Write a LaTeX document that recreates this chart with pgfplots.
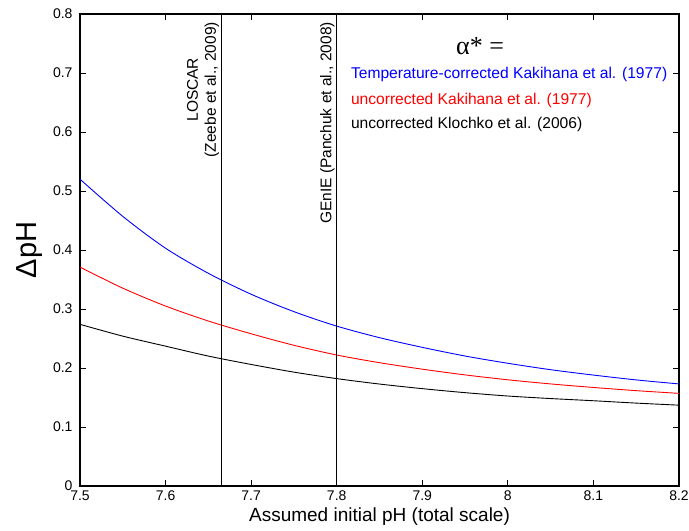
\documentclass[border=0pt]{standalone}
\usepackage{fontspec}
\setmainfont{Liberation Sans}
\newfontfamily\serifalpha{Liberation Serif}
\usepackage{pgfplots}
\pgfplotsset{compat=1.18}
\definecolor{myblue}{RGB}{0,0,255}
\definecolor{myred}{RGB}{255,0,0}
\begin{document}
\begin{tikzpicture}
\begin{axis}[
  scale only axis,
  width=599pt, height=472pt,
  xmin=7.5, xmax=8.2, ymin=0, ymax=0.8,
  xtick={7.5,7.6,7.7,7.8,7.9,8.0,8.1,8.2},
  xticklabels={7.5,7.6,7.7,7.8,7.9,8,8.1,8.2},
  ytick={0,0.1,0.2,0.3,0.4,0.5,0.6,0.7,0.8},
  yticklabels={0,0.1,0.2,0.3,0.4,0.5,0.6,0.7,0.8},
  tick align=inside,
  major tick length=6pt,
  axis line style={line width=1.3pt},
  tick style={line width=0.9pt, black},
  ticklabel style={font=\fontsize{14}{16}\selectfont},
  yticklabel style={xshift=-4pt},
  xticklabel style={yshift=-1.5pt},
  /pgf/number format/assume math mode=true,
  xlabel={Assumed initial pH (total scale)},
  xlabel style={font=\fontsize{19}{21}\selectfont, at={(axis description cs:0.5,0)}, anchor=center, yshift=-31pt},
  ylabel={ΔpH},
  ylabel style={font=\fontsize{29}{31}\selectfont, at={(axis description cs:-0.0835,0.5)}, anchor=center},
  clip=true,
]
\addplot[myblue, line width=0.9pt, smooth] coordinates {
(7.50,0.520) (7.55,0.457) (7.60,0.403) (7.65,0.3605) (7.70,0.325) (7.75,0.2955)
(7.80,0.271) (7.85,0.2514) (7.90,0.235) (7.95,0.2203) (8.00,0.208) (8.05,0.1971)
(8.10,0.188) (8.15,0.1798) (8.20,0.173)};
\addplot[myred, line width=0.9pt, smooth] coordinates {
(7.50,0.371) (7.55,0.3353) (7.60,0.305) (7.65,0.2796) (7.70,0.258) (7.75,0.2385)
(7.80,0.222) (7.85,0.209) (7.90,0.198) (7.95,0.1883) (8.00,0.180) (8.05,0.173)
(8.10,0.167) (8.15,0.1616) (8.20,0.157)};
\addplot[black, line width=0.9pt, smooth] coordinates {
(7.50,0.274) (7.55,0.254) (7.60,0.237) (7.65,0.2202) (7.70,0.206) (7.75,0.193)
(7.80,0.182) (7.85,0.1728) (7.90,0.165) (7.95,0.1582) (8.00,0.1525) (8.05,0.1482)
(8.10,0.1445) (8.15,0.1405) (8.20,0.137)};
\addplot[black, line width=0.9pt] coordinates {(7.665,0) (7.665,0.8)};
\addplot[black, line width=0.9pt] coordinates {(7.8,0) (7.8,0.8)};
\node[rotate=90, anchor=south east, align=center, font=\fontsize{15.5}{18}\selectfont, inner sep=2pt]
  at (axis cs:7.665,0.79) {LOSCAR\\(Zeebe et al., 2009)};
\node[rotate=90, anchor=south east, font=\fontsize{15.5}{18}\selectfont, inner sep=2pt]
  at (axis cs:7.8,0.79) {GEnIE (Panchuk et al., 2008)};
\node[font=\fontsize{26}{28}\selectfont\serifalpha] at (axis cs:7.9675,0.745) {α* =};
\node[anchor=west, font=\fontsize{15.6}{18}\selectfont, text=myblue, inner sep=0pt] at (axis cs:7.8165,0.697) {Temperature-corrected Kakihana et al. (1977)};
\node[anchor=west, font=\fontsize{15.6}{18}\selectfont, text=myred, inner sep=0pt] at (axis cs:7.8165,0.654) {uncorrected Kakihana et al. (1977)};
\node[anchor=west, font=\fontsize{15.6}{18}\selectfont, text=black, inner sep=0pt] at (axis cs:7.8165,0.612) {uncorrected Klochko et al. (2006)};
\end{axis}
\pgfresetboundingbox
\useasboundingbox ([shift={(-80pt,-45pt)}]current axis.south west) rectangle ([shift={(10pt,14pt)}]current axis.north east);
\end{tikzpicture}
\end{document}
